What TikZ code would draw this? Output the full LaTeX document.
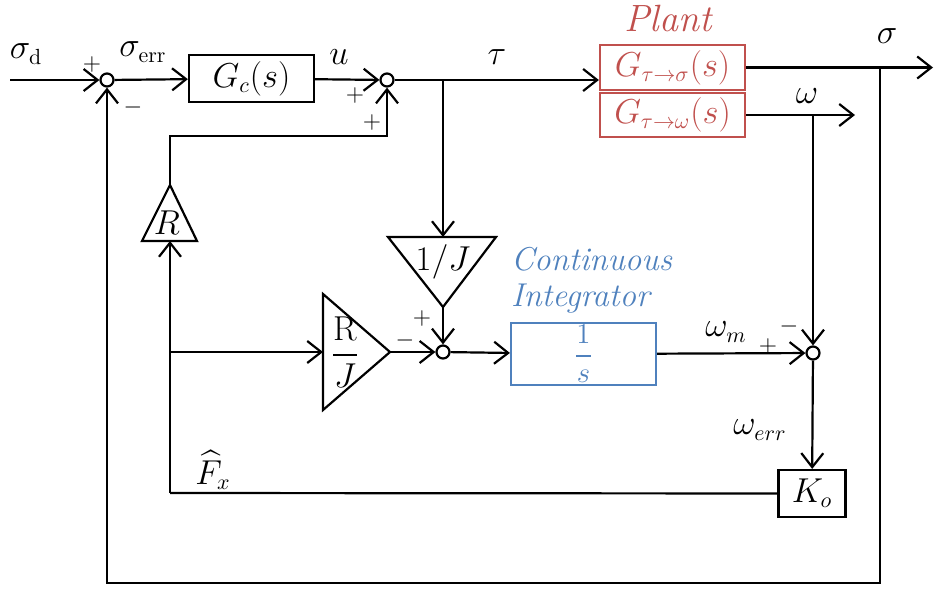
\documentclass[tikz,border=0pt]{standalone}
\usepackage{amsmath}
\usepackage{xcolor}
\usetikzlibrary{arrows.meta, positioning}
\definecolor{plantred}{RGB}{192,80,77}
\definecolor{integblue}{RGB}{79,129,189}

\begin{document}
\begin{tikzpicture}[x=0.5pt, y=-0.5pt, font=\fontsize{16}{19}\selectfont,
  block/.style={rectangle, draw, line width=1.1pt, inner sep=0pt},
  plant/.style={block, draw=plantred, text=plantred, minimum width=72.5pt, minimum height=22.5pt},
  sum/.style={circle, draw, fill=white, line width=1.1pt, inner sep=0pt, minimum size=6.5pt},
  gain/.style={line width=1.1pt, line join=miter},
  sign/.style={font=\fontsize{12}{14}\selectfont, inner sep=0pt},
  arrow/.style={-{Straight Barb[length=7pt, width=11pt]}, line width=1.1pt},
  link/.style={line width=1.1pt}
]
\useasboundingbox (0,0) rectangle (935,590);

% blocks
\node[sum] (s1) at (107,80) {};
\node[block, minimum width=62.5pt, minimum height=23.5pt] (gc) at (251.5,78.5) {$G_c(s)$};
\node[sum] (s2) at (387,80) {};
\node[plant] (ptop) at (672.5,67.5) {$G_{\tau\to\sigma}(s)$};
\node[plant, minimum height=22pt] (pbot) at (672.5,115) {$G_{\tau\to\omega}(s)$};
\node[sum] (s4) at (443,352) {};
\node[block, draw=integblue, text=integblue, minimum width=72.5pt, minimum height=31pt, font=\fontsize{14}{17}\selectfont] (int) at (583.5,354) {$\dfrac{1}{s}$};
\node[sum] (s3) at (813,353) {};
\node[block, minimum width=33.5pt, minimum height=23.5pt] (ko) at (812,493.5) {$K_o$};

% gain triangles
\coordinate (ijl) at (388,237);
\coordinate (ijr) at (496,237);
\coordinate (ijapex) at (443,307);
\coordinate (ijbase) at (443,237);
\draw[gain] (ijl) -- (ijr) -- (ijapex) -- cycle;
\node (ij) at (443,262) {$1/J$};
\coordinate (rjtop) at (323,294);
\coordinate (rjbot) at (323,410);
\coordinate (rjapex) at (390,352);
\coordinate (rjbase) at (323,352);
\draw[gain] (rjtop) -- (rjapex) -- (rjbot) -- cycle;
\node (rj) at (345,352) {$\dfrac{\mathrm{R}}{J}$};
\coordinate (rgl) at (142,241);
\coordinate (rgr) at (197,241);
\coordinate (rgapex) at (170,185);
\coordinate (rgbase) at (170,241);
\draw[gain] (rgl) -- (rgapex) -- (rgr) -- cycle;
\node (rg) at (167,223) {$R$};

% free ends and corners
\coordinate (sd) at (10,80);
\coordinate (tb) at (443,80);
\coordinate (fb) at (880,67.5);
\coordinate (sigout) at (933,67.5);
\coordinate (omout) at (855,115);
\coordinate (rk) at (387,136);
\coordinate (fx) at (170,493);
\coordinate (lp) at (880,583);

% texts
\node (lsd) at (26,54) {$\sigma_{\mathrm{d}}$};
\node (lserr) at (143,52) {$\sigma_{\mathrm{err}}$};
\node (lu) at (339,57) {$u$};
\node (ltau) at (497,57) {$\tau$};
\node (lsig) at (887,36) {$\sigma$};
\node (lom) at (807,96) {$\omega$};
\node (lomm) at (726,332) {$\omega_m$};
\node (lomerr) at (760,430) {$\omega_{err}$};
\node (lfx) at (213,470) {$\widehat{F}_x$};
\node[text=plantred, font=\fontsize{19}{22}\itshape] (lplant) at (668,18) {Plant};
\node[anchor=west, align=left, text=integblue, font=\fontsize{16.5}{18}\itshape] (lint) at (504,280) {Continuous\\Integrator};
\node[sign] (p1) at (92,64) {$+$};
\node[sign] (m1) at (133,107) {$-$};
\node[sign] (p2) at (355,95) {$+$};
\node[sign] (p3) at (372,122) {$+$};
\node[sign] (p4) at (422,318) {$+$};
\node[sign] (m4) at (405,340) {$-$};
\node[sign] (m3) at (789,326) {$-$};
\node[sign] (p5) at (768,346) {$+$};

% connectors
\draw[arrow] (sd) -- (s1);
\draw[arrow] (s1) -- (gc);
\draw[arrow] (gc) -- (s2);
\draw[arrow] (s2) -- (s2 -| ptop.west);
\draw[arrow] (tb) -- (ijbase);
\draw[arrow] (ijapex) -- (s4);
\draw[arrow] (rjapex) -- (s4);
\draw[arrow] (s4) -- (int);
\draw[arrow] (int) -- (s3);
\draw[arrow] (ptop.east) -- (sigout);
\draw[arrow] (pbot.east) -- (omout);
\draw[arrow] (s3 |- pbot.east) -- (s3);
\draw[arrow] (s3) -- (ko);
\draw[link] (ko) -- (fx);
\draw[arrow] (fx) -- (rgbase);
\draw[arrow] (fx |- rjbase) -- (rjbase);
\draw[arrow] (rgapex) |- (rk) -- (s2);
\draw[arrow] (fb) -- (lp) -| (s1);
\end{tikzpicture}
\end{document}
